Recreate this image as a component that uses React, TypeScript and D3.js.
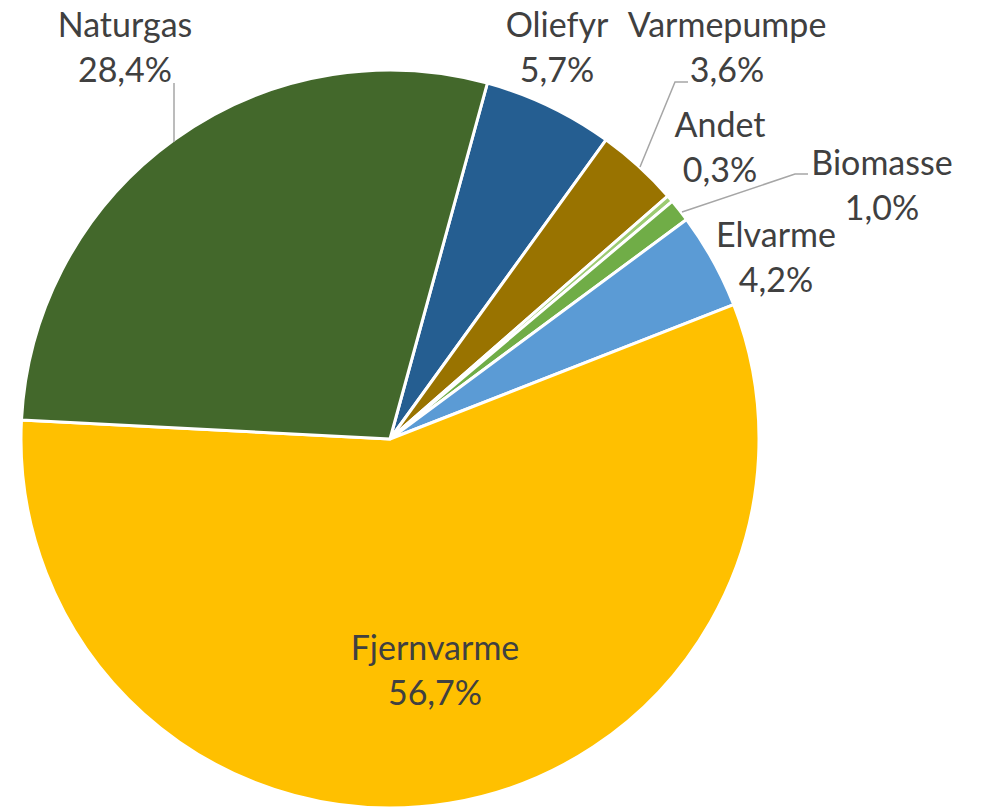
import { useRef, useEffect } from 'react';
import * as d3 from 'd3';

// Andel af opvarmningsformer (%)
const categories = ['Oliefyr', 'Varmepumpe', 'Andet', 'Biomasse', 'Elvarme', 'Fjernvarme', 'Naturgas'];
const values = [5.7, 3.6, 0.3, 1.0, 4.2, 56.7, 28.4];
const colors = ['#255E91', '#997300', '#9CCB72', '#70AD47', '#5B9BD5', '#FFC000', '#43682B'];

// label placement (center x, baseline of first line) as Excel placed them
const labelPos: Record<string, [number, number]> = {
  Oliefyr: [557, 37],
  Varmepumpe: [727, 37],
  Andet: [720, 137],
  Biomasse: [882, 175],
  Elvarme: [776, 247],
  Fjernvarme: [435, 660],
  Naturgas: [125, 37],
};

// leader lines
const leaders: Record<string, [number, number][]> = {
  Naturgas: [[174, 83], [174, 142]],
  Varmepumpe: [[640, 167], [675, 82], [688, 82]],
  Biomasse: [[682, 212], [795, 174], [808, 174]],
};

const fmt = (v: number) => v.toFixed(1).replace('.', ',') + '%';

export default function App() {
  const svgRef = useRef<SVGSVGElement>(null);

  useEffect(() => {
    const width = 986;
    const height = 808;
    const cx = 390;
    const cy = 439;
    const radius = 369;

    const svg = d3.select(svgRef.current)
      .html('')
      .attr('width', width)
      .attr('height', height);

    const data = categories.map((c, i) => ({ name: c, value: values[i], color: colors[i] }));

    const start = (15.3 * Math.PI) / 180;
    const pie = d3.pie<typeof data[number]>()
      .sort(null)
      .value(d => d.value)
      .startAngle(start)
      .endAngle(start + 2 * Math.PI);

    const arc = d3.arc<d3.PieArcDatum<typeof data[number]>>()
      .innerRadius(0)
      .outerRadius(radius);

    const g = svg.append('g').attr('transform', `translate(${cx},${cy})`);

    g.selectAll('path')
      .data(pie(data))
      .enter()
      .append('path')
      .attr('d', arc)
      .attr('fill', d => d.data.color)
      .attr('stroke', '#fff')
      .attr('stroke-width', 3)
      .attr('stroke-linejoin', 'round');

    // leader lines
    const line = d3.line();
    Object.entries(leaders).forEach(([, pts]) => {
      svg.append('path')
        .attr('d', line(pts))
        .attr('fill', 'none')
        .attr('stroke', '#A6A6A6')
        .attr('stroke-width', 1.5);
    });

    // labels
    data.forEach(d => {
      const [x, y] = labelPos[d.name];
      const t = svg.append('text')
        .attr('text-anchor', 'middle')
        .attr('font-family', 'Lato, "Open Sans", sans-serif')
        .attr('font-size', 34)
        .attr('fill', '#404040');
      t.append('tspan').attr('x', x).attr('y', y).text(d.name);
      t.append('tspan').attr('x', x).attr('y', y + 45).text(fmt(d.value));
    });
  }, []);

  return <svg ref={svgRef} style={{ display: 'block', position: 'absolute', left: 0, top: 0 }} />;
}
